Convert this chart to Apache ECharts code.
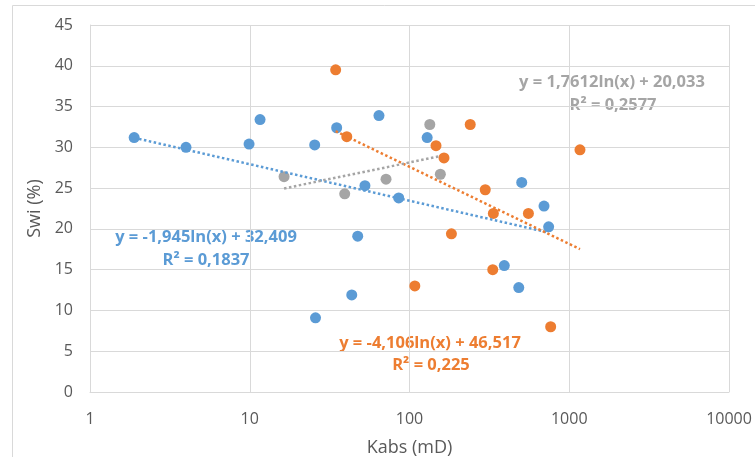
<!DOCTYPE html>
<html>
<head>
<meta charset="utf-8">
<script src="https://cdn.jsdelivr.net/npm/echarts@6/dist/echarts.min.js"></script>
<style>
html,body{margin:0;padding:0;background:#fff;}
#chart{width:755px;height:457px;}
</style>
</head>
<body>
<div id="chart"></div>
<script>
// Data
const blueK   = [1.89, 3.99, 9.9, 11.6, 25.5, 25.8, 35, 43.5, 47.4, 52.6, 64.4, 85.6, 129, 392, 483, 504, 695, 743];
const blueSwi = [31.2, 30.0, 30.4, 33.4, 30.3, 9.1, 32.4, 11.9, 19.1, 25.3, 33.9, 23.8, 31.2, 15.5, 12.8, 25.7, 22.8, 20.25];

const orangeK   = [34.5, 40.5, 108, 146.5, 164.4, 183, 240, 298, 332, 335, 555, 765, 1167];
const orangeSwi = [39.5, 31.3, 13.0, 30.2, 28.7, 19.4, 32.8, 24.8, 15.0, 21.9, 21.9, 8.0, 29.7];

const grayK   = [16.4, 39.3, 71.3, 134, 156];
const graySwi = [26.4, 24.3, 26.1, 32.8, 26.7];

// logarithmic trendline coefficients [a, b] for y = a*ln(x) + b (as printed on the chart)
const blueFit   = [-1.945, 32.409];
const orangeFit = [-4.106, 46.517];
const grayFit   = [1.7612, 20.033];

const blueLabel   = ['y = -1,945ln(x) + 32,409', 'R² = 0,1837'];
const orangeLabel = ['y = -4,106ln(x) + 46,517', 'R² = 0,225'];
const grayLabel   = ['y = 1,7612ln(x) + 20,033', 'R² = 0,2577'];

const yTicks = [0, 45, 5]; // min, max, interval
const xTicks = [1, 10000];

const BLUE = '#5B9BD5', ORANGE = '#ED7D31', GRAY = '#A5A5A5';
const FONT = 'Open Sans';

function pts(xs, ys) { return xs.map((x, i) => [x, ys[i]]); }
function trend(xs, fit) {
  const lo = Math.min(...xs), hi = Math.max(...xs);
  return [lo, hi].map(x => [x, fit[0] * Math.log(x) + fit[1]]);
}

const chart = echarts.init(document.getElementById('chart'), null, {renderer: 'canvas'});

function scatter(name, data, color) {
  return {name, type: 'scatter', data, symbolSize: 11, itemStyle: {color, opacity: 1}, z: 3};
}
function tline(name, data, color) {
  return {name, type: 'line', data, symbol: 'none', silent: true, z: 4,
    lineStyle: {color, width: 2.5, type: [2.5, 2.5], cap: 'butt'}};
}

function txt(x, y, text, color) {
  return {type: 'text', x, y, style: {text, fill: color, font: 'bold 16.5px "' + FONT + '"', align: 'center', verticalAlign: 'middle'}};
}

chart.setOption({
  animation: false,
  grid: {left: 90, right: 26, top: 25, bottom: 65, containLabel: false, outerBoundsMode: 'none'},
  xAxis: {
    type: 'log', logBase: 10, min: xTicks[0], max: xTicks[1],
    name: 'Kabs (mD)', nameLocation: 'middle', nameGap: 47,
    nameTextStyle: {color: '#595959', fontSize: 18, fontFamily: FONT},
    axisLine: {show: true, lineStyle: {color: '#D9D9D9', width: 1}},
    axisTick: {show: false},
    axisLabel: {color: '#595959', fontSize: 16, fontFamily: FONT, margin: 19, formatter: v => String(Math.round(v))},
    splitLine: {show: true, lineStyle: {color: '#D9D9D9', width: 1}}
  },
  yAxis: {
    type: 'value', min: yTicks[0], max: yTicks[1], interval: yTicks[2],
    name: 'Swi (%)', nameLocation: 'middle', nameGap: 44,
    nameTextStyle: {color: '#595959', fontSize: 18, fontFamily: FONT},
    axisLine: {show: true, lineStyle: {color: '#D9D9D9', width: 1}},
    axisTick: {show: false},
    axisLabel: {color: '#595959', fontSize: 16, fontFamily: FONT, margin: 17},
    splitLine: {show: true, lineStyle: {color: '#D9D9D9', width: 1}}
  },
  series: [
    scatter('blue', pts(blueK, blueSwi), BLUE),
    scatter('orange', pts(orangeK, orangeSwi), ORANGE),
    scatter('gray', pts(grayK, graySwi), GRAY),
    tline('blueTrend', trend(blueK, blueFit), BLUE),
    tline('orangeTrend', trend(orangeK, orangeFit), ORANGE),
    tline('grayTrend', trend(grayK, grayFit), GRAY)
  ],
  graphic: [
    {type: 'rect', shape: {x: 12.5, y: 5.5, width: 800, height: 500}, style: {fill: 'none', stroke: '#D9D9D9', lineWidth: 1}, silent: true, z: -10},
    txt(206, 237, blueLabel[0], BLUE),
    txt(206, 260, blueLabel[1], BLUE),
    txt(430, 343, orangeLabel[0], ORANGE),
    txt(431, 365, orangeLabel[1], ORANGE),
    txt(612, 82, grayLabel[0], GRAY),
    txt(613, 105, grayLabel[1], GRAY)
  ]
});
</script>
</body>
</html>
